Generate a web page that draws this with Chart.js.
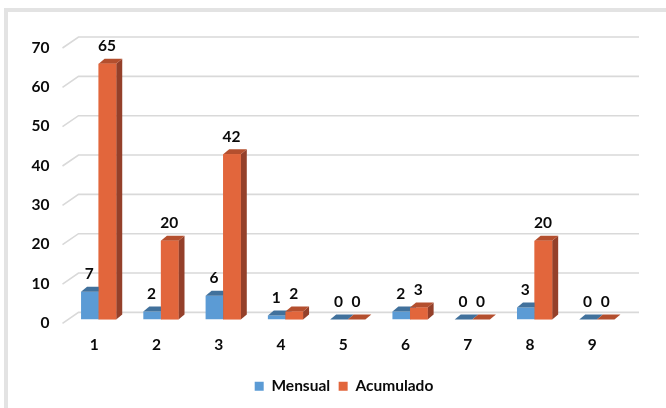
<!DOCTYPE html>
<html><head><meta charset="utf-8">
<style>
html,body{margin:0;padding:0;background:#fff;width:666px;height:408px;overflow:hidden}
#frameTop{position:absolute;left:4px;top:8px;width:662px;height:4px;background:#e3e3e3}
#frameLeft{position:absolute;left:4px;top:8px;width:4px;height:400px;background:#e3e3e3}
#wrap{position:absolute;left:0;top:0;width:666px;height:408px}
</style>
<script src="https://cdn.jsdelivr.net/npm/chart.js@4"></script>
</head><body>
<div id="frameTop"></div><div id="frameLeft"></div>
<div id="wrap"><canvas id="c" width="666" height="408"></canvas></div>
<script>
const categories = ["1","2","3","4","5","6","7","8","9"];
const mensual = [7,2,6,1,0,2,0,3,0];
const acumulado = [65,20,42,2,0,3,0,20,0];
const yTicks = [0,10,20,30,40,50,60,70];
const FONT = 'Lato, Carlito, sans-serif';
const TEXT = '#0a0a0a';
const faces = [
  {front:'#5B9BD5', top:'#41719C', side:'#3F6E99'},
  {front:'#E2663C', top:'#B44F2E', side:'#94402A'}
];
const DX = 6, DY = 5;

const gridPlugin = {
  id:'wall',
  beforeDatasetsDraw(chart){
    const {ctx, scales:{y}, chartArea:a} = chart;
    ctx.save();
    ctx.strokeStyle = '#d9d9d9';
    ctx.lineWidth = 1.6;
    yTicks.forEach(v=>{
      const p = y.getPixelForValue(v);
      ctx.beginPath();
      ctx.moveTo(a.left-5, p+4);
      ctx.lineTo(a.left+11, p-7);
      ctx.lineTo(a.left+571.5, p-7);
      ctx.stroke();
    });
    ctx.restore();
  }
};
const prismPlugin = {
  id:'prism',
  afterLayout(chart){
    chart.legend.left += 30;
    chart.legend.right += 30;
  },
  afterDatasetsDraw(chart){
    const {ctx} = chart;
    ctx.save();
    chart.data.datasets.forEach((ds,di)=>{
      const f = faces[di];
      chart.getDatasetMeta(di).data.forEach((bar,i)=>{
        const hw = bar.width/2, l = bar.x-hw, r = bar.x+hw, t = bar.y, b = bar.base;
        if (b-t > 0.5){
          ctx.fillStyle = f.side;
          ctx.beginPath();
          ctx.moveTo(r,t); ctx.lineTo(r+DX,t-DY); ctx.lineTo(r+DX,b-DY); ctx.lineTo(r,b);
          ctx.closePath(); ctx.fill();
        }
        ctx.fillStyle = f.top;
        ctx.beginPath();
        ctx.moveTo(l,t); ctx.lineTo(l+DX,t-DY); ctx.lineTo(r+DX,t-DY); ctx.lineTo(r,t);
        ctx.closePath(); ctx.fill();
      });
    });
    chart.getDatasetMeta(1).data.forEach(bar=>{
      const hw = bar.width/2;
      if (bar.base-bar.y > 0.5){
        ctx.fillStyle = faces[1].front;
        ctx.fillRect(bar.x-hw, bar.y, bar.width, bar.base-bar.y);
      }
    });
    ctx.fillStyle = TEXT;
    ctx.font = 'bold 15.5px '+FONT;
    ctx.textAlign = 'center';
    ctx.textBaseline = 'middle';
    chart.data.datasets.forEach((ds,di)=>{
      chart.getDatasetMeta(di).data.forEach((bar,i)=>{
        ctx.fillText(String(ds.data[i]), bar.x-0.5, bar.y-17.5);
      });
    });
    ctx.restore();
  }
};

new Chart(document.getElementById('c'),{
  type:'bar',
  data:{labels:categories,datasets:[
    {label:'Mensual',data:mensual,backgroundColor:faces[0].front,borderWidth:0},
    {label:'Acumulado',data:acumulado,backgroundColor:faces[1].front,borderWidth:0}
  ]},
  options:{
    responsive:false,animation:false,devicePixelRatio:1,
    layout:{padding:{left:0,right:38,top:44,bottom:4}},
    datasets:{bar:{categoryPercentage:0.565,barPercentage:1}},
    plugins:{
      tooltip:{enabled:false},
      legend:{position:'bottom',align:'center',
        labels:{boxWidth:9,boxHeight:9,padding:8.5,color:TEXT,font:{family:FONT,size:15.5,weight:'bold'}}}
    },
    scales:{
      x:{grid:{display:false,drawTicks:false},border:{display:false},
        ticks:{color:TEXT,padding:16,labelOffset:-4.5,maxRotation:0,font:{family:FONT,size:15.5,weight:'bold'}}},
      y:{min:0,max:70,
        afterFit(s){s.width=67.5;},
        afterBuildTicks(s){s.ticks=yTicks.map(v=>({value:v}));},
        grid:{display:false,drawTicks:false},border:{display:false},
        ticks:{color:TEXT,padding:18,labelOffset:3.5,font:{family:FONT,size:15.5,weight:'bold'}}}
    }
  },
  plugins:[gridPlugin,prismPlugin]
});
</script>
</body></html>
